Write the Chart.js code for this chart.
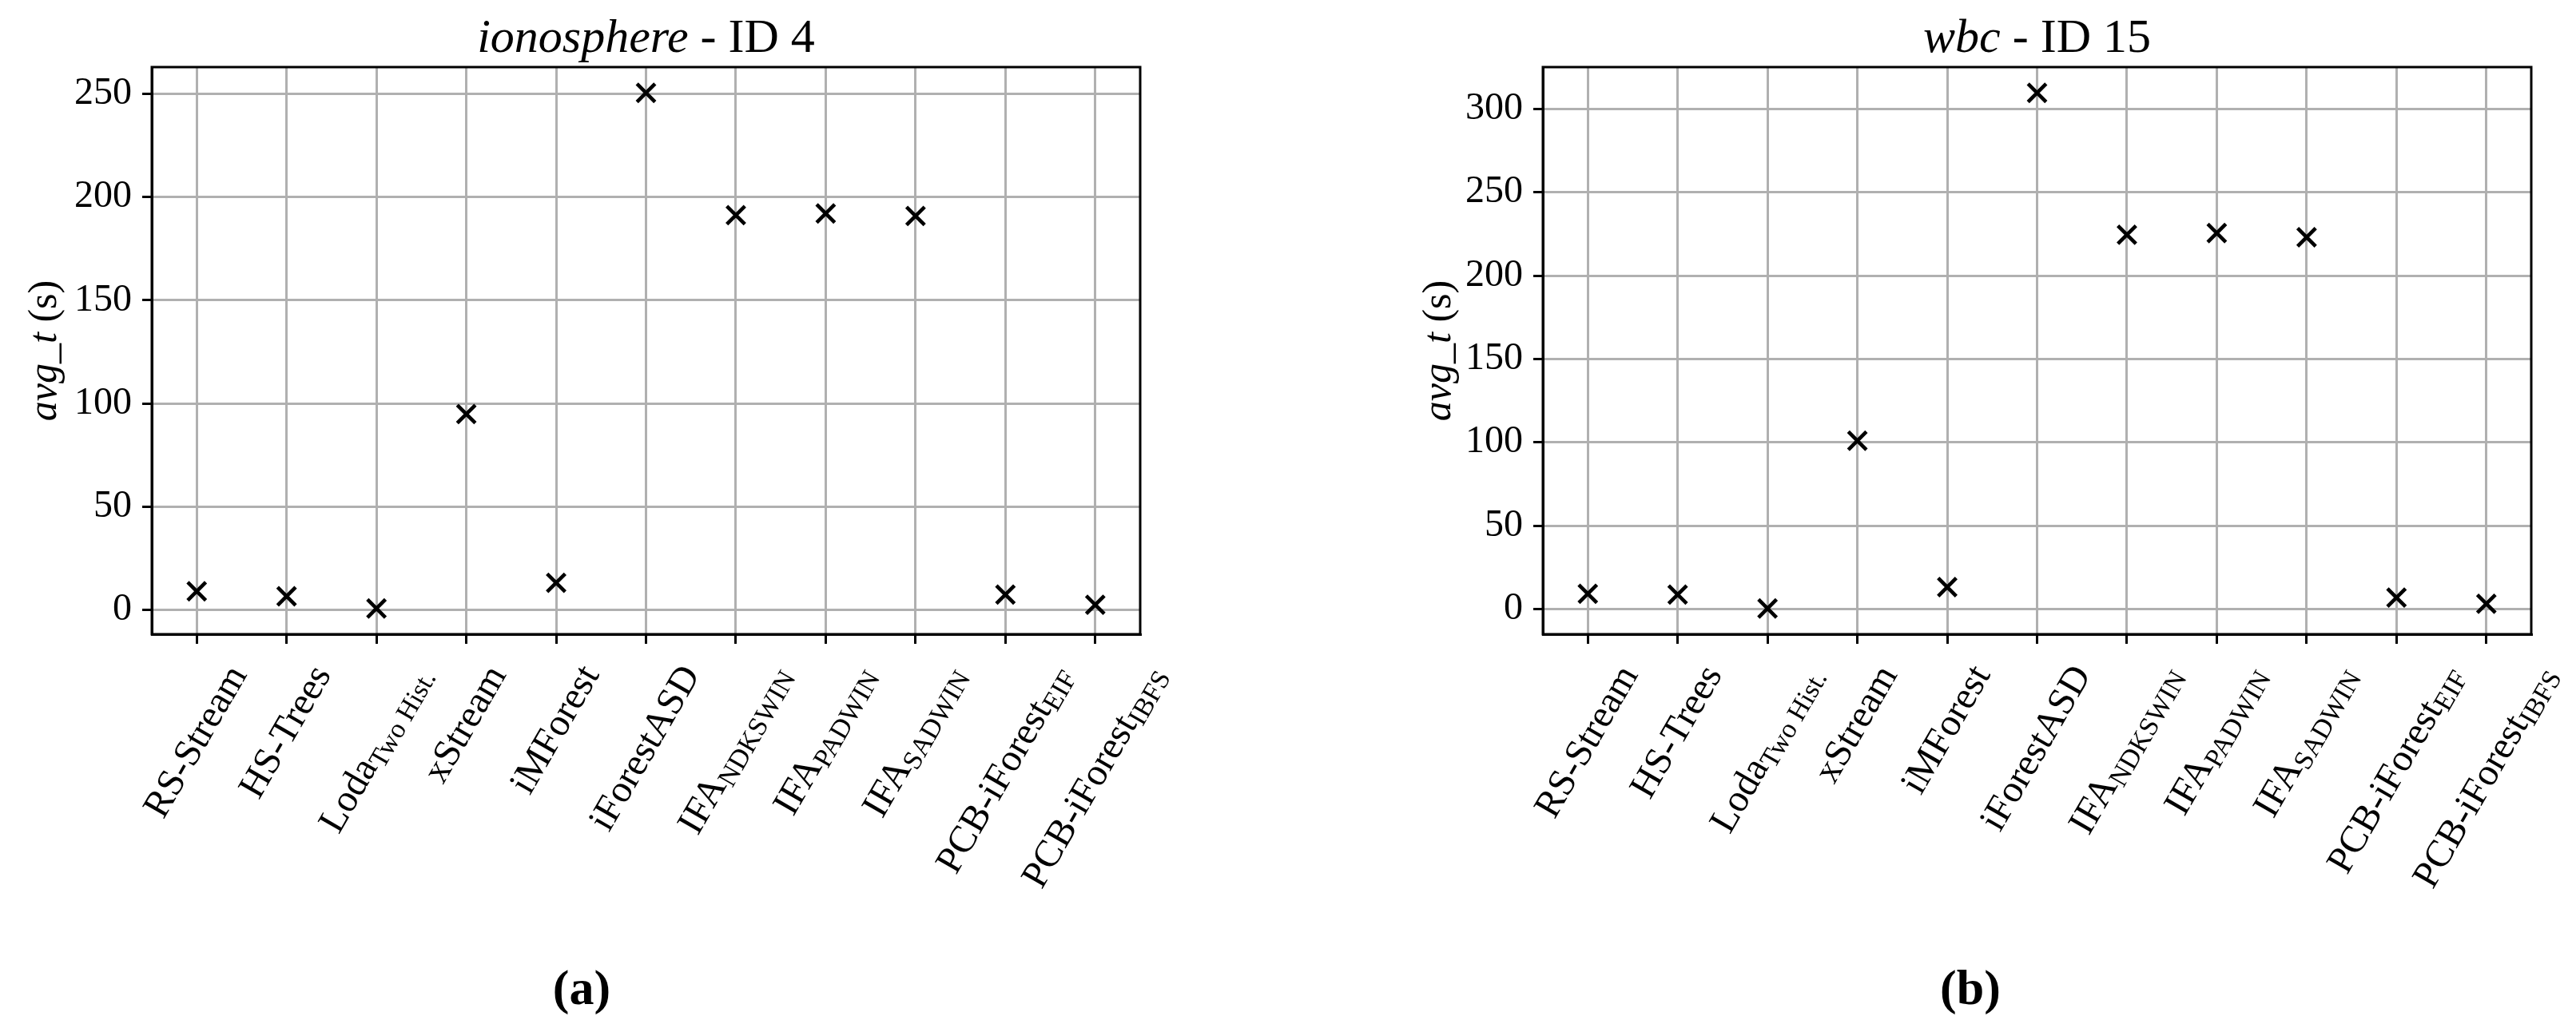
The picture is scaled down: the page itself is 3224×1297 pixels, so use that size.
<!DOCTYPE html>
<html>
<head>
<meta charset="utf-8">
<script src="https://cdn.jsdelivr.net/npm/chart.js@4.4.0/dist/chart.umd.min.js"></script>
<style>
html, body { margin: 0; padding: 0; background: #fff; }
body { width: 3224px; height: 1297px; position: relative; overflow: hidden; }
.panel { position: absolute; top: 0; width: 1612px; height: 1297px; }
.cap { position: absolute; top: 1205px; font: bold 62px 'Liberation Serif'; line-height: 62px; transform: translateX(-50%); color: #000; }
</style>
</head>
<body>
<div class="panel" style="left:0"><canvas id="ionoChart"></canvas></div>
<div class="panel" style="left:1612px"><canvas id="wbcChart"></canvas></div>
<div class="cap" style="left:728px">(a)</div>
<div class="cap" style="left:2466px">(b)</div>
<script>
/* ===== DATA ===== */
const xNames = ['RS-Stream','HS-Trees','Loda','xStream','iMForest','iForestASD','IFA','IFA','IFA','PCB-iForest','PCB-iForest'];
const xSubs  = ['','','Two Hist.','','','','NDKSWIN','PADWIN','SADWIN','EIF','IBFS'];

const ionoValues = [9.1, 6.7, 0.8, 94.9, 13.2, 250.4, 191.2, 192.0, 190.8, 7.5, 2.6];
const wbcValues  = [9.3, 8.8, 0.5, 101.0, 13.3, 309.5, 224.5, 225.5, 223.0, 7.0, 3.3];

const ionoTicks = [0, 50, 100, 150, 200, 250];
const wbcTicks  = [0, 50, 100, 150, 200, 250, 300];

const FONT = "'Liberation Serif'";
Chart.defaults.font.family = FONT;
Chart.defaults.color = '#000';

/* ===== TEXT HELPERS ===== */
function drawRuns(ctx, runs, x, y) {
  let w = 0;
  runs.forEach(r => { ctx.font = r.font; r.w = ctx.measureText(r.text).width; w += r.w; });
  let cx = x - w / 2;
  ctx.textAlign = 'left';
  runs.forEach(r => { ctx.font = r.font; ctx.fillText(r.text, cx, y + (r.dy || 0)); cx += r.w; });
  return w;
}

const yLabelRuns = [
  { text: 'avg_t', font: `italic 50px ${FONT}` },
  { text: ' (s)', font: `50px ${FONT}` }
];

/* ===== TITLE, AXIS LABEL, X LABELS, FRAME ===== */
const panelDecor = {
  id: 'panelDecor',
  afterDraw(chart, args, opts) {
    const { ctx, chartArea: a } = chart;
    const xs = chart.scales.x;
    ctx.save();
    ctx.fillStyle = '#000';

    ctx.textBaseline = 'alphabetic';
    drawRuns(ctx, opts.title, (a.left + a.right) / 2, a.top - 19);

    ctx.save();
    ctx.translate(opts.yLabelX, (a.top + a.bottom) / 2);
    ctx.rotate(-Math.PI / 2);
    ctx.textBaseline = 'middle';
    drawRuns(ctx, yLabelRuns, 0, 0);
    ctx.restore();

    const ang = Math.PI / 3;
    xNames.forEach((name, i) => {
      const runs = [{ text: name, font: `48px ${FONT}` }];
      if (xSubs[i]) runs.push({ text: xSubs[i], font: `34px ${FONT}`, dy: 11 });
      let w = 0;
      runs.forEach(r => { ctx.font = r.font; w += ctx.measureText(r.text).width; });
      const boxH = w * Math.sin(ang) + 48 * Math.cos(ang);
      ctx.save();
      ctx.translate(xs.getPixelForTick(i), a.bottom + 32 + boxH / 2);
      ctx.rotate(-ang);
      ctx.textBaseline = 'middle';
      drawRuns(ctx, runs, 0, 0);
      ctx.restore();
    });

    ctx.lineWidth = 3;
    ctx.strokeStyle = '#000';
    ctx.strokeRect(a.left, a.top, a.right - a.left, a.bottom - a.top);
    ctx.restore();
  }
};

/* ===== CHARTS ===== */
function makeChart(id, values, yTicks, yAxisWidth, padRight, titleRuns, yLabelX) {
  const lo = Math.min(...values), hi = Math.max(...values), m = 0.05 * (hi - lo);
  const grid = { color: '#b0b0b0', lineWidth: 3, tickColor: '#000', tickWidth: 3, tickLength: 12 };
  return new Chart(document.getElementById(id), {
    type: 'line',
    data: {
      labels: xNames.map((n, i) => n + (xSubs[i] ? ' ' + xSubs[i] : '')),
      datasets: [{
        data: values,
        showLine: false,
        pointStyle: 'crossRot',
        pointRadius: 16, pointHoverRadius: 16,
        pointBorderWidth: 4.6, pointHoverBorderWidth: 4.6,
        borderColor: '#000', backgroundColor: '#000'
      }]
    },
    options: {
      responsive: true, maintainAspectRatio: false, animation: false,
      layout: { padding: { left: 0, top: 84, right: padRight, bottom: 0 } },
      plugins: {
        legend: { display: false }, tooltip: { enabled: false }, title: { display: false },
        panelDecor: { title: titleRuns, yLabelX }
      },
      scales: {
        x: {
          type: 'category', offset: true, grid,
          border: { color: '#000', width: 3 },
          ticks: { display: false },
          afterFit: s => { s.height = 503; }
        },
        y: {
          min: lo - m, max: hi + m, grid,
          border: { color: '#000', width: 3 },
          ticks: { color: '#000', font: { size: 48, family: FONT }, padding: 13 },
          afterBuildTicks: s => { s.ticks = yTicks.map(v => ({ value: v })); },
          afterFit: s => { s.width = yAxisWidth; }
        }
      }
    },
    plugins: [panelDecor]
  });
}

makeChart('ionoChart', ionoValues, ionoTicks, 190, 185,
  [{ text: 'ionosphere', font: `italic 60px ${FONT}` }, { text: ' - ID 4', font: `60px ${FONT}` }], 57);
makeChart('wbcChart', wbcValues, wbcTicks, 319, 56,
  [{ text: 'wbc', font: `italic 60px ${FONT}` }, { text: ' - ID 15', font: `60px ${FONT}` }], 190);
</script>
</body>
</html>
